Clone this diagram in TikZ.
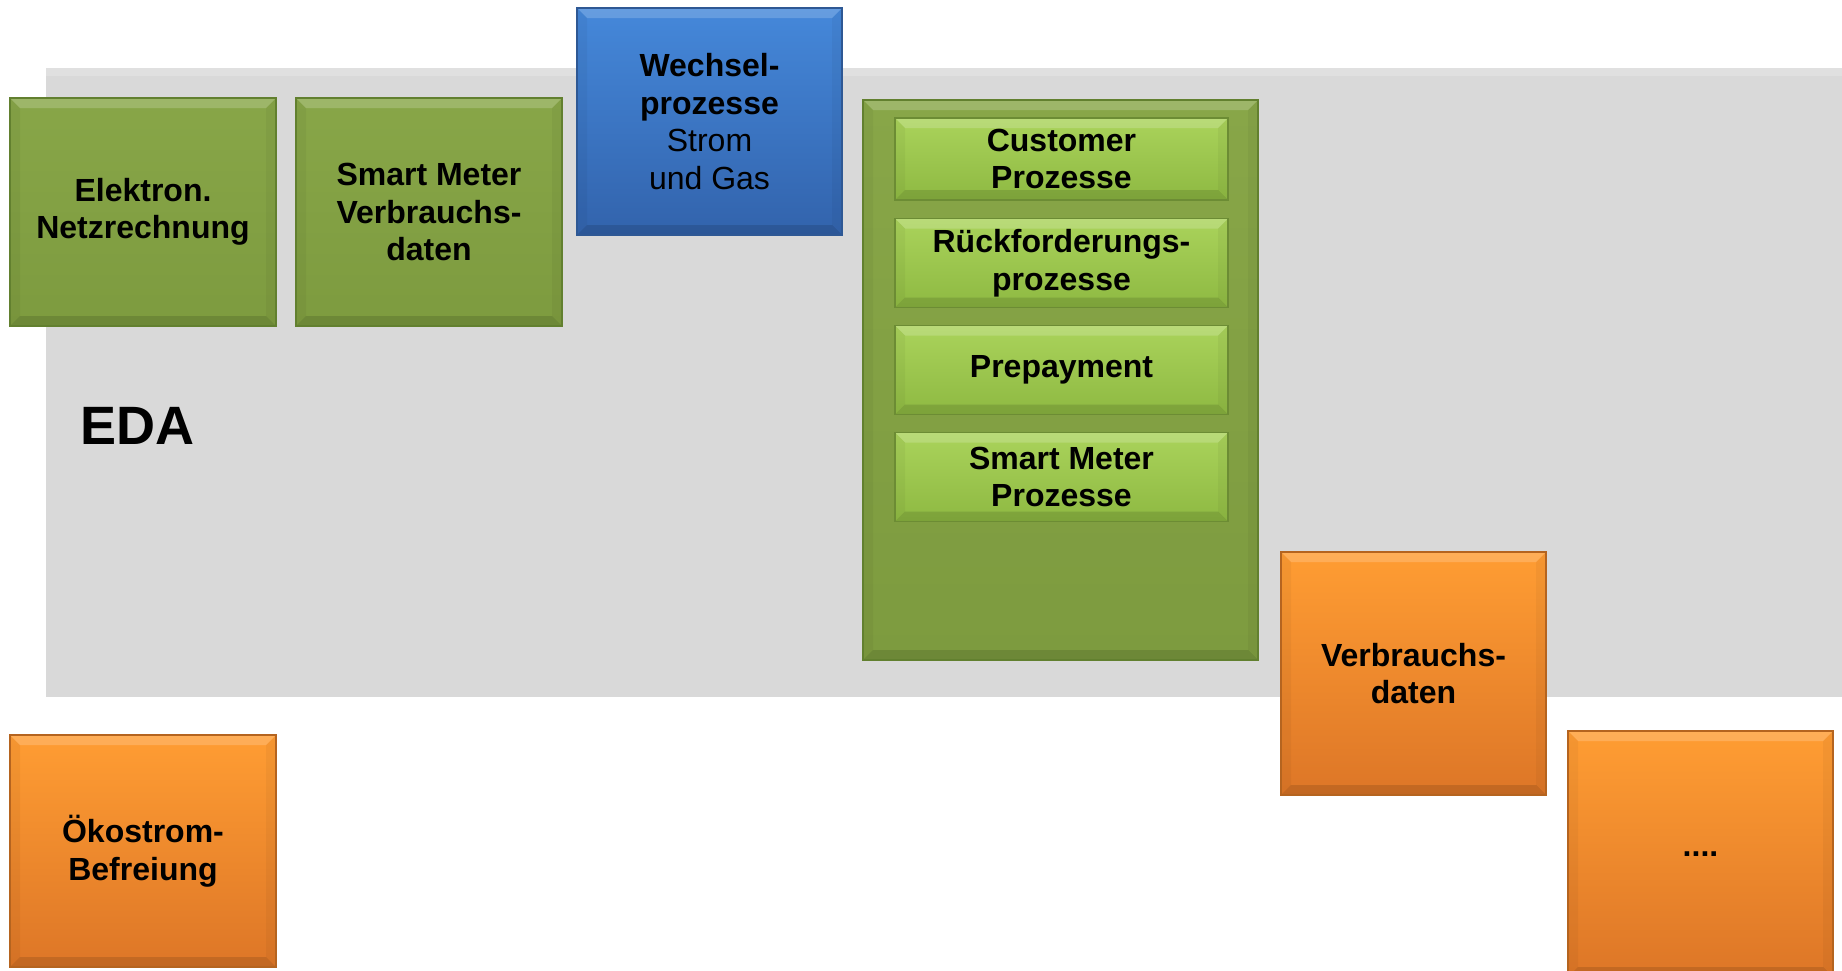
\documentclass[tikz,border=0pt]{standalone}
\usepackage{fontspec}
\setmainfont{Liberation Sans}

\definecolor{edagrau}{HTML}{D9D9D9}
\definecolor{oliveOben}{HTML}{88A648}
\definecolor{oliveUnten}{HTML}{7D9B3F}
\definecolor{oliveRand}{HTML}{62802F}
\definecolor{limeOben}{HTML}{AAD35B}
\definecolor{limeUnten}{HTML}{8EB942}
\definecolor{limeRand}{HTML}{6C8C34}
\definecolor{blauOben}{HTML}{4588DA}
\definecolor{blauUnten}{HTML}{3263AC}
\definecolor{blauRand}{HTML}{2E5894}
\definecolor{orangeOben}{HTML}{FF9D33}
\definecolor{orangeUnten}{HTML}{DD7627}
\definecolor{orangeRand}{HTML}{B5641F}

\tikzset{
    kachel/.style={rectangle, inner sep=0pt, align=center, text=black,
        font=\fontsize{32}{37.5}\selectfont\bfseries, line width=1.2pt,
        path picture={
            \fill[white, opacity=.18] (path picture bounding box.north west) -- (path picture bounding box.north east)
                -- ([xshift=-10pt,yshift=-10pt]path picture bounding box.north east)
                -- ([xshift=10pt,yshift=-10pt]path picture bounding box.north west) -- cycle;
            \fill[black, opacity=.12] (path picture bounding box.south west) -- (path picture bounding box.south east)
                -- ([xshift=-10pt,yshift=10pt]path picture bounding box.south east)
                -- ([xshift=10pt,yshift=10pt]path picture bounding box.south west) -- cycle;
            \fill[black, opacity=.04] (path picture bounding box.north west) -- ([xshift=10pt,yshift=-10pt]path picture bounding box.north west)
                -- ([xshift=10pt,yshift=10pt]path picture bounding box.south west) -- (path picture bounding box.south west) -- cycle;
            \fill[black, opacity=.04] (path picture bounding box.north east) -- ([xshift=-10pt,yshift=-10pt]path picture bounding box.north east)
                -- ([xshift=-10pt,yshift=10pt]path picture bounding box.south east) -- (path picture bounding box.south east) -- cycle;
        }},
    olive/.style={kachel, top color=oliveOben, bottom color=oliveUnten, draw=oliveRand},
    lime/.style={kachel, top color=limeOben, bottom color=limeUnten, draw=limeRand},
    blau/.style={kachel, top color=blauOben, bottom color=blauUnten, draw=blauRand},
    orange/.style={kachel, top color=orangeOben, bottom color=orangeUnten, draw=orangeRand},
}

\begin{document}
\begin{tikzpicture}[x=1pt, y=-1pt]
    \useasboundingbox (0,0) rectangle (1842,970);

    % EDA Hintergrund
    \node[rectangle, inner sep=0pt, fill=edagrau, minimum width=1796pt, minimum height=629pt,
        path picture={\fill[white, opacity=.2] (path picture bounding box.north west) rectangle
            ([yshift=-8pt]path picture bounding box.north east);}] (eda) at (944,382.5) {};
    \node[font=\fontsize{54}{60}\selectfont\bfseries, anchor=west, inner sep=0pt] (edatitel) at (80,426) {EDA};

    % obere Reihe
    \node[olive, minimum width=266pt, minimum height=228pt] (netzrechnung) at (143,212) {Elektron.\\Netzrechnung};
    \node[olive, minimum width=266pt, minimum height=228pt] (smdaten) at (429,212) {Smart Meter\\Verbrauchs-\\daten};
    \node[blau, minimum width=265pt, minimum height=227pt] (wechsel) at (709.5,121.5) {Wechsel-\\prozesse\\{\mdseries Strom}\\{\mdseries und Gas}};

    % Prozessgruppe
    \node[olive, minimum width=395pt, minimum height=560pt] (prozesse) at (1060.5,380) {};
    \node[lime, minimum width=333pt, minimum height=82pt] (customer) at (1061.5,159) {Customer\\Prozesse};
    \node[lime, minimum width=333pt, minimum height=89pt] (rueckforderung) at (1061.5,263) {Rückforderungs-\\prozesse};
    \node[lime, minimum width=333pt, minimum height=89pt] (prepayment) at (1061.5,370) {Prepayment};
    \node[lime, minimum width=333pt, minimum height=89pt] (smprozesse) at (1061.5,477) {Smart Meter\\Prozesse};

    % untere Reihe
    \node[orange, minimum width=265pt, minimum height=243pt] (verbrauch) at (1413.5,673.5) {Verbrauchs-\\daten};
    \node[orange, minimum width=266pt, minimum height=232pt] (oekostrom) at (143,851) {Ökostrom-\\Befreiung};
    \node[orange, minimum width=265pt, minimum height=246pt] (weitere) at (1700.5,854) {....};

\end{tikzpicture}
\end{document}
